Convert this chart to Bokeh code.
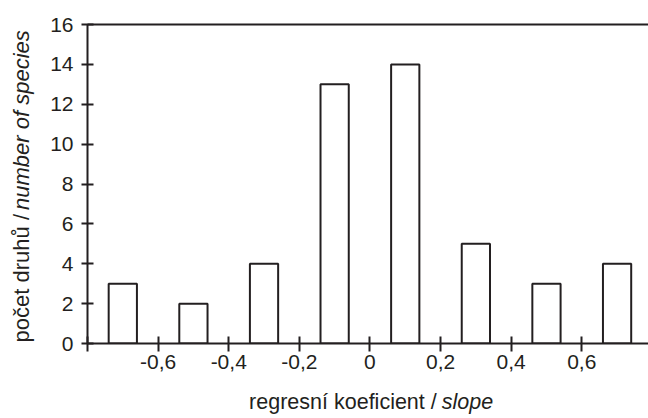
import math
from bokeh.plotting import figure
from bokeh.layouts import row, column
from bokeh.models import Range1d, FixedTicker, LinearAxis, Label, CustomJSTickFormatter
from bokeh.embed import file_html
from bokeh.resources import INLINE

# ---- data ----
bin_centers = [-0.7, -0.5, -0.3, -0.1, 0.1, 0.3, 0.5, 0.7]
species_counts = [3, 2, 4, 13, 14, 5, 3, 4]
x_tick_values = [-0.8, -0.6, -0.4, -0.2, 0.0, 0.2, 0.4, 0.6, 0.8]
x_tick_labels = ["", "-0,6", "-0,4", "-0,2", "0", "0,2", "0,4", "0,6", ""]
y_tick_values = [0, 2, 4, 6, 8, 10, 12, 14, 16]
x_title_plain = "regresní koeficient /"
x_title_italic = "slope"
y_title_plain = "počet druhů /"
y_title_italic = "number of species"

INK = "#231f20"
FONT = "Liberation Sans"

W, H = 648, 418
YLAB_W = 40
MAIN_H = 380
MAIN_W = W - YLAB_W
XLAB_H = H - MAIN_H


def blank(width, height):
    f = figure(width=width, height=height, x_range=Range1d(0, width), y_range=Range1d(0, height),
               output_backend="svg", toolbar_location=None, title=None,
               x_axis_type=None, y_axis_type=None,
               min_border_left=0, min_border_right=0, min_border_top=0, min_border_bottom=0)
    f.outline_line_color = None
    f.xgrid.visible = False
    f.ygrid.visible = False
    return f


# ---- main plot ----
p = figure(width=MAIN_W, height=MAIN_H, x_range=Range1d(-0.8, 0.789), y_range=Range1d(0, 16),
           output_backend="svg", toolbar_location=None, title=None,
           min_border_left=87 - YLAB_W, min_border_right=0, min_border_top=24,
           min_border_bottom=MAIN_H - 343)
p.outline_line_color = None
p.xgrid.visible = False
p.ygrid.visible = False

p.vbar(x=bin_centers, top=species_counts, bottom=0, width=0.08,
       fill_color="white", line_color=INK, line_width=2)

fmt = CustomJSTickFormatter(args=dict(vals=x_tick_values, labs=x_tick_labels), code="""
for (let i = 0; i < vals.length; i++) { if (Math.abs(tick - vals[i]) < 1e-9) return labs[i]; }
return "";
""")

xa = p.xaxis[0]
xa.ticker = FixedTicker(ticks=x_tick_values)
xa.formatter = fmt
xa.axis_line_width = 2
xa.axis_line_color = INK
xa.major_tick_line_width = 2
xa.major_tick_line_color = INK
xa.major_tick_in = 7
xa.major_tick_out = 8
xa.minor_tick_line_color = None
xa.major_label_standoff = 3
xa.major_label_text_font = FONT
xa.major_label_text_font_size = "21px"
xa.major_label_text_color = INK

ya = p.yaxis[0]
ya.ticker = FixedTicker(ticks=y_tick_values)
ya.axis_line_width = 2
ya.axis_line_color = INK
ya.major_tick_line_width = 2
ya.major_tick_line_color = INK
ya.major_tick_in = 6
ya.major_tick_out = 6
ya.minor_tick_line_color = None
ya.major_label_standoff = 8
ya.major_label_text_font = FONT
ya.major_label_text_font_size = "21px"
ya.major_label_text_color = INK

top_axis = LinearAxis(ticker=FixedTicker(ticks=[]), axis_line_width=2, axis_line_color=INK,
                      major_tick_in=0, major_tick_out=0, minor_tick_line_color=None,
                      major_label_text_font_size="0px")
p.add_layout(top_axis, "above")

# ---- y title panel ----
yl = blank(YLAB_W, H)
yl.add_layout(Label(x=21, y=H - 213.5, text=y_title_plain, text_align="right", angle=math.pi / 2,
                    text_baseline="alphabetic", text_font=FONT, text_font_size="22px",
                    text_color=INK))
yl.add_layout(Label(x=21, y=H - 209.5, text=y_title_italic, text_align="left", angle=math.pi / 2,
                    text_baseline="alphabetic", text_font=FONT, text_font_size="22px",
                    text_font_style="italic", text_color=INK))

# ---- x title panel ----
xl = blank(MAIN_W, XLAB_H)
XBASE = 401 - MAIN_H
xl.add_layout(Label(x=418.5 - YLAB_W, y=XLAB_H - XBASE, text=x_title_plain, text_align="right",
                    text_baseline="alphabetic", text_font=FONT, text_font_size="21.5px",
                    text_color=INK))
xl.add_layout(Label(x=424 - YLAB_W, y=XLAB_H - XBASE, text=x_title_italic, text_align="left",
                    text_baseline="alphabetic", text_font=FONT, text_font_size="21.5px",
                    text_font_style="italic", text_color=INK))

layout = row(yl, column(p, xl, spacing=0), spacing=0)
open("out.html", "w").write(file_html(layout, INLINE))
